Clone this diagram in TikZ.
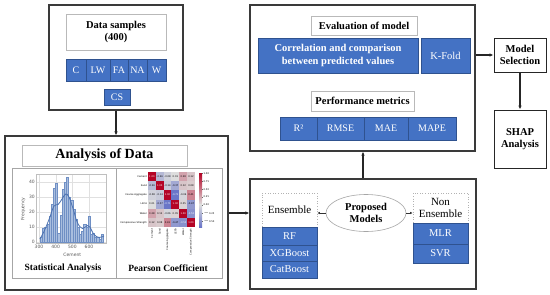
\documentclass[tikz,border=0pt]{standalone}
\usepackage{fontspec}
\setmainfont{Liberation Serif}
\setsansfont{DejaVu Sans}
\usetikzlibrary{arrows.meta,shapes.geometric}
\definecolor{bblue}{HTML}{4472C4}
\definecolor{bedge}{HTML}{2F528F}
\definecolor{frm}{HTML}{3A3A3A}
\definecolor{hred}{RGB}{180,4,38}
\definecolor{hblue}{RGB}{59,76,192}
\definecolor{hmid}{RGB}{221,221,221}
\definecolor{barfill}{HTML}{A9BEDF}
\definecolor{baredge}{HTML}{6F8FC4}
\definecolor{kde}{HTML}{4C72B0}
\begin{document}
\begin{tikzpicture}[x=1pt,y=-1pt,
 frame/.style={draw=frm, line width=1.2pt, inner sep=0pt},
 wbox/.style={draw=gray!55, line width=0.6pt, fill=white, inner sep=0pt, align=center, font=\bfseries\fontsize{10.5}{12}\selectfont},
 bcell/.style={fill=bblue, draw=bedge, line width=0.5pt, inner sep=0pt, text=white, align=center, font=\fontsize{10}{11}\selectfont},
 conn/.style={line width=1.3pt, draw=black!85, -{Latex[length=4pt,width=3.5pt]}},
 sconn/.style={line width=0.6pt, draw=black!80, -{Latex[length=2.5pt,width=2.5pt]}},
 ticklab/.style={font=\sffamily\fontsize{4.5}{5}\selectfont, text=black!65, inner sep=1pt},
 hmlab/.style={font=\sffamily\fontsize{2.4}{3}\selectfont, inner sep=0.5pt},
]
\useasboundingbox[fill=white] (0,0) rectangle (550,295);

% ---------- Data samples frame ----------
\node[frame, minimum width=134pt, minimum height=105pt] (f1) at (116,57.5) {};
\node[wbox, minimum width=100pt, minimum height=36pt] (ds) at (116,32) {Data samples\\(400)};
\node[bcell, minimum width=20pt, minimum height=22pt] (c1) at (76,70) {C};
\node[bcell, minimum width=24pt, minimum height=22pt] (c2) at (98,70) {LW};
\node[bcell, minimum width=18pt, minimum height=22pt] (c3) at (119,70) {FA};
\node[bcell, minimum width=19pt, minimum height=22pt] (c4) at (137.5,70) {NA};
\node[bcell, minimum width=19pt, minimum height=22pt] (c5) at (156.5,70) {W};
\node[bcell, minimum width=26pt, minimum height=16pt] (cs) at (117,97) {CS};

% ---------- Analysis of data frame ----------
\node[frame, minimum width=223pt, minimum height=154pt] (f2) at (116.5,213) {};
\node[wbox, minimum width=165pt, minimum height=21pt, font=\bfseries\fontsize{14}{16}\selectfont] (ad) at (104.5,155.5) {Analysis of Data};
\node[draw=gray!70, line width=0.6pt, inner sep=0pt, minimum width=210pt, minimum height=110pt] (inner) at (117,223) {};
\draw[gray!70, line width=0.6pt] (116,168) -- (116,278);
\node[font=\bfseries\fontsize{9.5}{11}\selectfont, inner sep=0pt] (sa) at (63,268) {Statistical Analysis};
\node[font=\bfseries\fontsize{9.5}{11}\selectfont, inner sep=0pt] (pc) at (168,268) {Pearson Coefficient};

% histogram
\begin{scope}[shift={(-11,242)}, x=0.16667pt, y=1.5pt]
  \fill[white] (282,-0.5) rectangle (702,45);
  \foreach \g in {0,10,20,30,40} \draw[black!12, line width=0.3pt] (282,\g) -- (702,\g);
  \foreach \g in {300,400,500,600} \draw[black!12, line width=0.3pt] (\g,-0.5) -- (\g,45);
  \foreach \xl/\h in {307/3,320/9,333/10,346/12,359/17,372/25,385/36,398/39,411/6,424/18,437/35,450/40,463/43,476/30,489/28,502/22,515/15,528/10,541/5,554/7,567/12,580/10,593/17,606/5,619/6,632/3,645/3,658/2,671/5}
    \draw[fill=barfill, draw=baredge, line width=0.25pt] (\xl,0) rectangle ++(13,\h);
  \draw[kde, line width=0.8pt] plot[smooth, tension=0.6] coordinates {(305,2)(330,7)(360,15)(390,24)(415,25)(440,29)(460,32)(480,30)(505,22)(530,13)(560,9)(590,11)(605,10)(630,5)(660,3)(690,4)};
  \draw[black!25, line width=0.4pt] (282,-0.5) rectangle (702,45);
  \foreach \g in {300,400,500,600} \node[ticklab, anchor=north] at (\g,-1) {\g};
  \foreach \g in {0,10,20,30,40} \node[ticklab, anchor=east] at (282,\g) {\g};
  \node[ticklab] (cementlab) at (500,-8.7) {Cement};
  \node[ticklab, rotate=90] (freqlab) at (205,22) {Frequency};
\end{scope}

% heatmap
\begin{scope}[shift={(148,172)}, x=7.833pt, y=-9.167pt]
  \foreach \row [count=\i from 0] in {{1.00,-0.26,-0.08,0.01,0.28,0.12},{-0.26,1.00,-0.14,-0.37,0.12,0.08},{-0.08,-0.14,1.00,-0.71,-0.06,0.41},{0.01,-0.37,-0.71,1.00,0.05,-0.47},{0.28,0.12,-0.06,0.05,1.00,-0.53},{0.12,0.08,0.41,-0.47,-0.53,1.00}}{
    \foreach \v [count=\j from 0] in \row {
      \pgfmathtruncatemacro\p{abs(\v)*100}
      \ifdim\v pt<0pt \def\hc{hblue!\p!hmid}\else\def\hc{hred!\p!hmid}\fi
      \ifnum\p>50 \def\tc{white}\else\def\tc{black}\fi
      \fill[\hc] (\j,\i) rectangle (\j+1,\i+1);
      \node[hmlab, text=\tc] at (\j+0.5,\i+0.5) {\v};
    }
  }
  \foreach \lab [count=\i from 0] in {Cement,Sand,Coarse Aggregate,LECA,Water,Compressive Strength}{
    \node[hmlab, anchor=east] at (-0.05,\i+0.5) {\lab};
    \node[hmlab, anchor=east, rotate=90] at (\i+0.5,6.1) {\lab};
  }
\end{scope}
% colorbar
\shade[top color=hred, bottom color=hmid] (199,173) rectangle (202,204.6);
\shade[top color=hmid, bottom color=hblue!71!hmid] (199,204.6) rectangle (202,227);
\foreach \t/\ty in {1.00/173.5,0.75/181.4,0.50/189.3,0.25/197.1,0.00/205,{$-$0.25}/212.9,{$-$0.50}/220.8}{
  \draw[black!60, line width=0.2pt] (202,\ty) -- (203,\ty);
  \node[hmlab, anchor=west, font=\sffamily\fontsize{2.4}{3}\selectfont] at (203,\ty) {\t};
}

% ---------- Evaluation frame ----------
\node[frame, minimum width=225pt, minimum height=146pt] (ev) at (362.5,78) {};
\node[wbox, minimum width=106pt, minimum height=19pt] (evt) at (364,25.5) {Evaluation of model};
\node[bcell, minimum width=160pt, minimum height=35pt, font=\bfseries\fontsize{10.5}{12.5}\selectfont] (corr) at (338,55.5) {Correlation and comparison\\between predicted values};
\node[bcell, minimum width=49pt, minimum height=35pt, font=\fontsize{10.5}{12}\selectfont] (kf) at (445.5,55.5) {K-Fold};
\node[wbox, minimum width=103pt, minimum height=20pt] (pmt) at (362.5,101) {Performance metrics};
\node[bcell, minimum width=37pt, minimum height=23pt] (r2) at (298.5,128.5) {R²};
\node[bcell, minimum width=47pt, minimum height=23pt] (rmse) at (340.5,128.5) {RMSE};
\node[bcell, minimum width=44pt, minimum height=23pt] (mae) at (386,128.5) {MAE};
\node[bcell, minimum width=48pt, minimum height=23pt] (mape) at (432,128.5) {MAPE};

% ---------- Model selection / SHAP ----------
\node[draw=black!85, line width=1pt, inner sep=0pt, minimum width=52pt, minimum height=34pt, align=center, font=\bfseries\fontsize{10.5}{12.5}\selectfont] (ms) at (520,55) {Model\\Selection};
\node[draw=black!85, line width=1pt, inner sep=0pt, minimum width=52pt, minimum height=58pt, align=center, font=\bfseries\fontsize{10.5}{12.5}\selectfont] (shap) at (520,139) {SHAP\\Analysis};

% ---------- Proposed models frame ----------
\node[frame, minimum width=226pt, minimum height=110pt] (pm) at (363,234) {};
\node[draw=gray!60, dotted, line width=0.6pt, fill=white, inner sep=0pt, minimum width=55pt, minimum height=34pt, font=\fontsize{11}{13}\selectfont] (ens) at (289.5,210) {Ensemble};
\node[bcell, minimum width=55pt, minimum height=18pt, font=\fontsize{10.5}{12}\selectfont] (rf) at (289.5,236) {RF};
\node[bcell, minimum width=55pt, minimum height=16pt, font=\fontsize{10.5}{12}\selectfont] (xgb) at (289.5,253) {XGBoost};
\node[bcell, minimum width=55pt, minimum height=17pt, font=\fontsize{10.5}{12}\selectfont] (cat) at (289.5,269.5) {CatBoost};
\node[ellipse, draw=gray!70, line width=0.6pt, inner sep=0pt, minimum width=80pt, minimum height=37pt, align=center, font=\bfseries\fontsize{10.5}{12}\selectfont] (ell) at (366,213) {Proposed\\Models};
\node[draw=gray!60, dotted, line width=0.6pt, fill=white, inner sep=0pt, minimum width=55pt, minimum height=30pt, align=center, font=\fontsize{11}{12.5}\selectfont] (nens) at (440.5,208) {Non\\Ensemble};
\node[bcell, minimum width=55pt, minimum height=21pt, font=\fontsize{10.5}{12}\selectfont] (mlr) at (440.5,233.5) {MLR};
\node[bcell, minimum width=55pt, minimum height=19pt, font=\fontsize{10.5}{12}\selectfont] (svr) at (440.5,253.5) {SVR};

% ---------- connectors ----------
\draw[conn] (f1.south) -- (f1.south |- f2.north);
\draw[conn] (f2.east) -- (f2.east -| pm.west);
\draw[conn] (pm.north) -- (pm.north |- ev.south);
\draw[conn] (ms.west -| ev.east) -- (ms.west);
\draw[conn] (ms.south) -- (shap.north);
\draw[sconn] (ell.west) -- (ell.west -| ens.east);
\draw[sconn] (ell.east) -- (ell.east -| nens.west);
\end{tikzpicture}
\end{document}
